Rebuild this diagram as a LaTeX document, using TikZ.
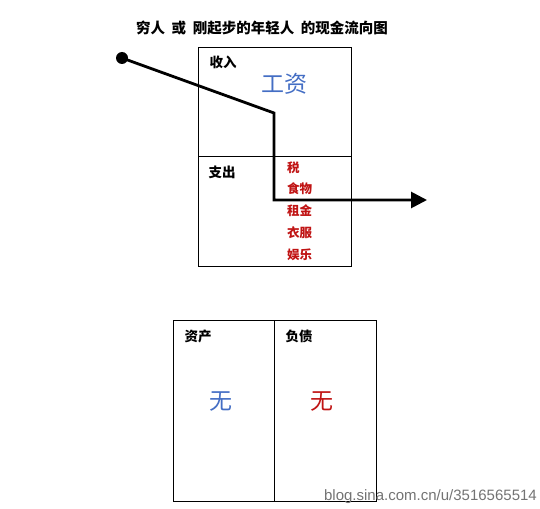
\documentclass[tikz,border=0pt]{standalone}
\usepackage{fontspec}
\usepackage{tikz}
\usetikzlibrary{arrows.meta}
\newfontfamily\cjk{Noto Sans CJK SC}
\newfontfamily\wmfont{Liberation Sans}
\definecolor{wageblue}{RGB}{68,110,196}
\definecolor{costred}{RGB}{192,20,20}
\begin{document}
\begin{tikzpicture}[x=1pt, y=-1pt,
	label/.style={inner sep=0pt, font=\cjk\bfseries\fontsize{13.5}{15}\selectfont},
	costitem/.style={label, anchor=west, text=costred, font=\cjk\bfseries\fontsize{12.5}{15}\selectfont},
	bigword/.style={inner sep=0pt, font=\cjk\fontsize{23}{26}\selectfont},
	box/.style={draw, line width=0.9pt},
	flow/.style={line width=2.8pt, line join=miter}]
			\useasboundingbox (0,0) rectangle (540,508);
			% Title
			\node[label, font=\cjk\bfseries\fontsize{14.5}{17}\selectfont] (title) at (262,28) {穷人\ \ 或\ \ 刚起步的年轻人\ \ 的现金流向图};
			
			% Income statement
			\draw[box] (198,47) rectangle (351,266);
			\draw[box] (198,156) -- (351,156);
			\node[label] (income) at (223,62) {收入};
			\node[bigword, text=wageblue] (wage) at (284,84) {工资};
			\node[label] (expense) at (222,172) {支出};
			\node[costitem] (tax) at (287,168) {税};
			\node[costitem] (food) at (287,189) {食物};
			\node[costitem] (rent) at (287,211) {租金};
			\node[costitem] (clothes) at (287,233) {衣服};
			\node[costitem] (fun) at (287,255) {娱乐};
			
			% Balance sheet
			\draw[box] (173,320) rectangle (376,501);
			\draw[box] (274,320) -- (274,501);
			\node[label] (assets) at (198,336) {资产};
			\node[label] (debts) at (299,336) {负债};
			\node[bigword, text=wageblue] (noasset) at (221,402) {无};
			\node[bigword, text=costred] (nodebt) at (322,402) {无};
			
			% Cash flow
			\node[fill=black, circle, minimum size=12pt, inner sep=0pt] (start) at (122,58) {};
			\coordinate (bendA) at (274,113);
			\coordinate (bendB) at (274,200);
			\coordinate (out) at (427,200);
			\draw[flow, -{Triangle[length=16pt, width=16pt]}] (start.center) -- (bendA) -- (bendB) -- (out);
			
			% Watermark
			\node[inner sep=0pt, anchor=east, text=black!55, font=\wmfont\fontsize{15}{17}\selectfont] (mark) at (537,497) {blog.sina.com.cn/u/3516565514};
		\end{tikzpicture}
\end{document}
